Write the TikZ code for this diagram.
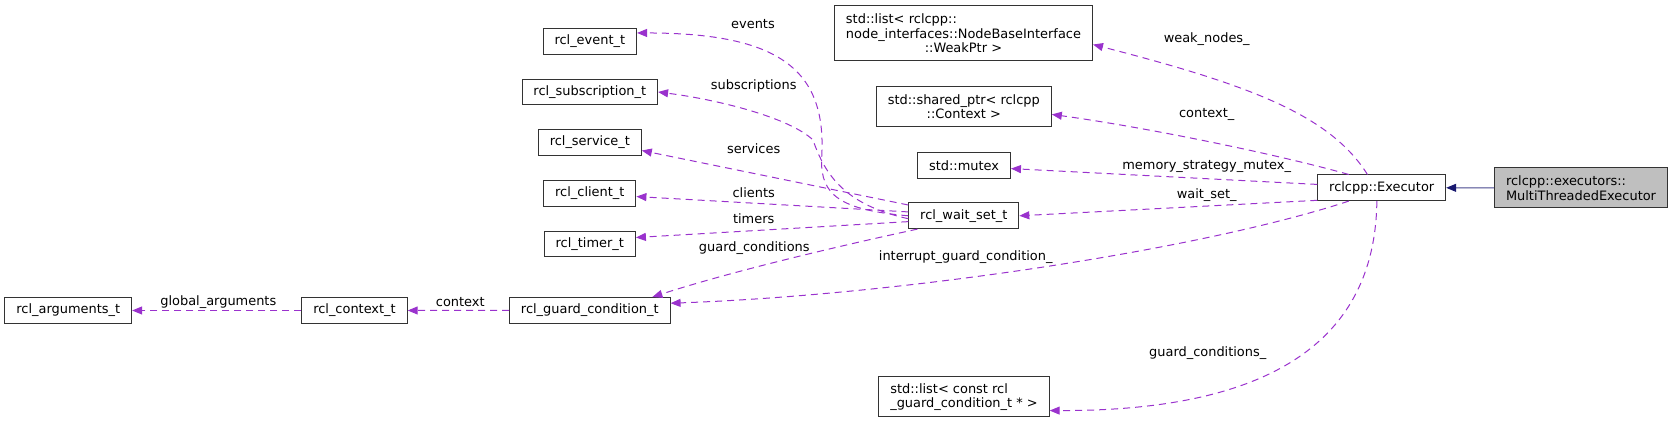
\documentclass[tikz,border=0pt]{standalone}
\usepackage{fontspec}
\setmainfont{DejaVu Sans}
\usetikzlibrary{arrows.meta}
\definecolor{edgepurple}{HTML}{9A32CD}
\definecolor{inheritblue}{HTML}{191970}

\begin{document}
\begin{tikzpicture}[x=0.75pt,y=-0.75pt,font=\fontsize{9.7}{11}\selectfont,
  cls/.style={draw=black!80,line width=0.75pt,inner xsep=8.6pt,inner ysep=0pt,minimum height=19.2pt},
  cls2/.style={cls,align=left,minimum height=30pt},
  lbl/.style={inner sep=0pt},
  memberedge/.style={draw=edgepurple,line width=0.75pt,dash pattern=on 5.25pt off 3.75pt,-{Triangle[length=7.5pt,width=6pt]}},
  inherit/.style={draw=inheritblue!80,line width=0.75pt,-{Triangle[length=7.5pt,width=6pt,color=inheritblue]}}]
  \useasboundingbox (0,0) rectangle (1673,423);
  % classes
  \node[cls] (event) at (589.8,41.3) {rcl\_event\_t};
  \node[cls] (subs) at (589.8,92) {rcl\_subscription\_t};
  \node[cls] (service) at (589.8,142.3) {rcl\_service\_t};
  \node[cls] (client) at (589.8,193.3) {rcl\_client\_t};
  \node[cls] (timer) at (589.8,244) {rcl\_timer\_t};
  \node[cls] (gcond) at (589.8,310.3) {rcl\_guard\_condition\_t};
  \node[cls] (ctx) at (354.5,310.5) {rcl\_context\_t};
  \node[cls] (args) at (68.3,310.5) {rcl\_arguments\_t};
  \node[cls] (ws) at (963.8,215.8) {rcl\_wait\_set\_t};
  \node[cls,align=left,text width=176.3pt,minimum height=41.25pt] (weak) at (963.5,33.2) {std::list< rclcpp::\\node\_interfaces::NodeBaseInterface\\\makebox[\hsize]{::WeakPtr >}};
  \node[cls2,align=center] (sptr) at (963.8,106.7) {std::shared\_ptr< rclcpp\\::Context >};
  \node[cls] (mutex) at (964,165.3) {std::mutex};
  \node[cls] (exec) at (1381.7,187.8) {rclcpp::Executor};
  \node[cls2,fill=black!25] (mt) at (1581,188) {rclcpp::executors::\\MultiThreadedExecutor};
  \node[cls2] (glist) at (964,397) {std::list< const rcl\\\_guard\_condition\_t * >};
  % edge labels
  \node[lbl] (l_events) at (753,24.5) {events};
  \node[lbl] (l_subs) at (753.7,86.3) {subscriptions};
  \node[lbl] (l_services) at (753.7,148.3) {services};
  \node[lbl] (l_clients) at (753.7,192.7) {clients};
  \node[lbl] (l_timers) at (753.7,219) {timers};
  \node[lbl] (l_gconds) at (754.3,248.3) {guard\_conditions};
  \node[lbl] (l_global) at (218.3,302.3) {global\_arguments};
  \node[lbl] (l_context) at (460.3,302.3) {context};
  \node[lbl] (l_weak) at (1206.7,39.3) {weak\_nodes\_};
  \node[lbl] (l_ctxm) at (1206.7,114.7) {context\_};
  \node[lbl] (l_mutex) at (1206.7,166) {memory\_strategy\_mutex\_};
  \node[lbl] (l_wsm) at (1206.7,195) {wait\_set\_};
  \node[lbl] (l_interrupt) at (965.7,256.7) {interrupt\_guard\_condition\_};
  \node[lbl] (l_gcondm) at (1207.7,352.7) {guard\_conditions\_};
  % rcl_wait_set_t members
  \draw[memberedge] (ws.180) .. controls (840,210) and (821,195) .. (821.5,160) .. controls (828,70) and (780,33) .. (event.10);
  \draw[memberedge] (ws.183) .. controls (845,205) and (825,175) .. (813,140) .. controls (790,118) and (720,100) .. (subs.east);
  \draw[memberedge] (ws.169) -- (service.-9);
  \draw[memberedge] (ws.176) -- (client.-4);
  \draw[memberedge] (ws.186) -- (timer.8);
  \draw[memberedge] (ws.196) .. controls (830,248) and (730,272) .. (gcond.12);
  \draw[memberedge] (gcond.west) -- (ctx.east);
  \draw[memberedge] (ctx.west) -- (args.east);
  % rclcpp::Executor members
  \draw[memberedge] (exec.137) .. controls (1330,115) and (1250,85) .. (weak.-5);
  \draw[memberedge] (exec.158) .. controls (1280,155) and (1150,128) .. (sptr.-5);
  \draw[memberedge] (exec.177) -- (mutex.-4);
  \draw[memberedge] (exec.191) -- (ws.east);
  \draw[memberedge] (exec.202) .. controls (1200,250) and (900,295) .. (gcond.5);
  \draw[memberedge] (exec.250) .. controls (1375,360) and (1240,411) .. (glist.-9);
  \draw[inherit] (mt.west) -- (exec.east);
\end{tikzpicture}
\end{document}
